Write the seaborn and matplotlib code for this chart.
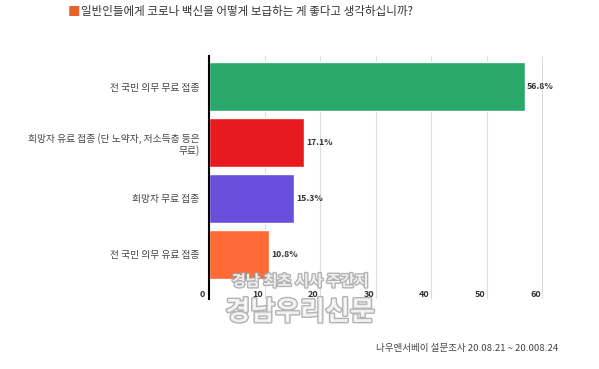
import numpy as np
import pandas as pd
import matplotlib
matplotlib.use('Agg')
import matplotlib.pyplot as plt
import matplotlib.transforms as mtransforms
import matplotlib.patheffects as pe
import seaborn as sns

# 데이터
categories = ['전 국민 의무 무료 접종',
              '희망자 유료 접종 (단 노약자, 저소득층 등은\n무료)',
              '희망자 무료 접종',
              '전 국민 의무 유료 접종']
values = [56.8, 17.1, 15.3, 10.8]
colors = ['#2aa86a', '#e8191f', '#6a4fdc', '#fd6a35']
xticks = [0, 10, 20, 30, 40, 50, 60]

title = '일반인들에게 코로나 백신을 어떻게 보급하는 게 좋다고 생각하십니까?'
source = '나우앤서베이 설문조사 20.08.21 ~ 20.008.24'

df = pd.DataFrame({'cat': categories, 'val': values})

sns.set_style('white')
plt.rcParams['font.family'] = ['Noto Sans CJK KR', 'DejaVu Sans']

fig = plt.figure(figsize=(5.99, 3.69), dpi=100)
ax = fig.add_axes([209/599, 1 - 299/369, (548-209)/599, (299-56)/369])

sns.barplot(data=df, x='val', y='cat', hue='cat', palette=colors,
            legend=False, width=0.88, saturation=1, ax=ax)

ax.set_xlim(0, 61)
ax.set_ylim(3.8, -0.55)
ax.set_xticks(xticks)
ax.set_xlabel('')
ax.set_ylabel('')
ax.grid(axis='x', color='#dddddd', linewidth=0.8)
ax.set_axisbelow(True)
for s in ['top', 'right', 'bottom']:
    ax.spines[s].set_visible(False)
ax.spines['left'].set_color('black')
ax.spines['left'].set_linewidth(1.5)

ax.tick_params(axis='x', length=0, pad=-6.5, labelsize=6.5, labelcolor='#333333')
ax.tick_params(axis='y', length=0, pad=7, labelsize=7.0, labelcolor='#444444')
for lab in ax.get_xticklabels():
    lab.set_fontweight('bold')
    lab.set_transform(lab.get_transform() + mtransforms.ScaledTranslation(-7/100, 0, fig.dpi_scale_trans))
for lab in ax.get_yticklabels():
    lab.set_multialignment('right')

for c in ax.containers:
    ax.bar_label(c, fmt='%.1f%%', padding=1.5, fontsize=6.3, fontweight='bold', color='#333333')

# 제목
fig.text(68/599, 1 - 12/369, '■', color='#e8632a', fontsize=9, va='center', ha='left')
fig.text(81/599, 1 - 12/369, title, color='#333333', fontsize=8.3, va='center', ha='left')

# 출처
fig.text(558/599, 1 - 348/369, source, color='#444444', fontsize=6.9, va='center', ha='right')

# 워터마크
wm = [pe.withStroke(linewidth=2, foreground='#a0a0a0')]
fig.text(300/599, 1 - 281/369, '경남 최초 시사 주간지', color='white', fontsize=11,
         fontweight='bold', ha='center', va='center', alpha=0.8, path_effects=wm)
fig.text(300/599, 1 - 312/369, '경남우리신문', color='white', fontsize=19.5,
         fontweight='bold', ha='center', va='center', alpha=0.8, path_effects=wm)

fig.savefig('out.png', dpi=100, facecolor='white')
